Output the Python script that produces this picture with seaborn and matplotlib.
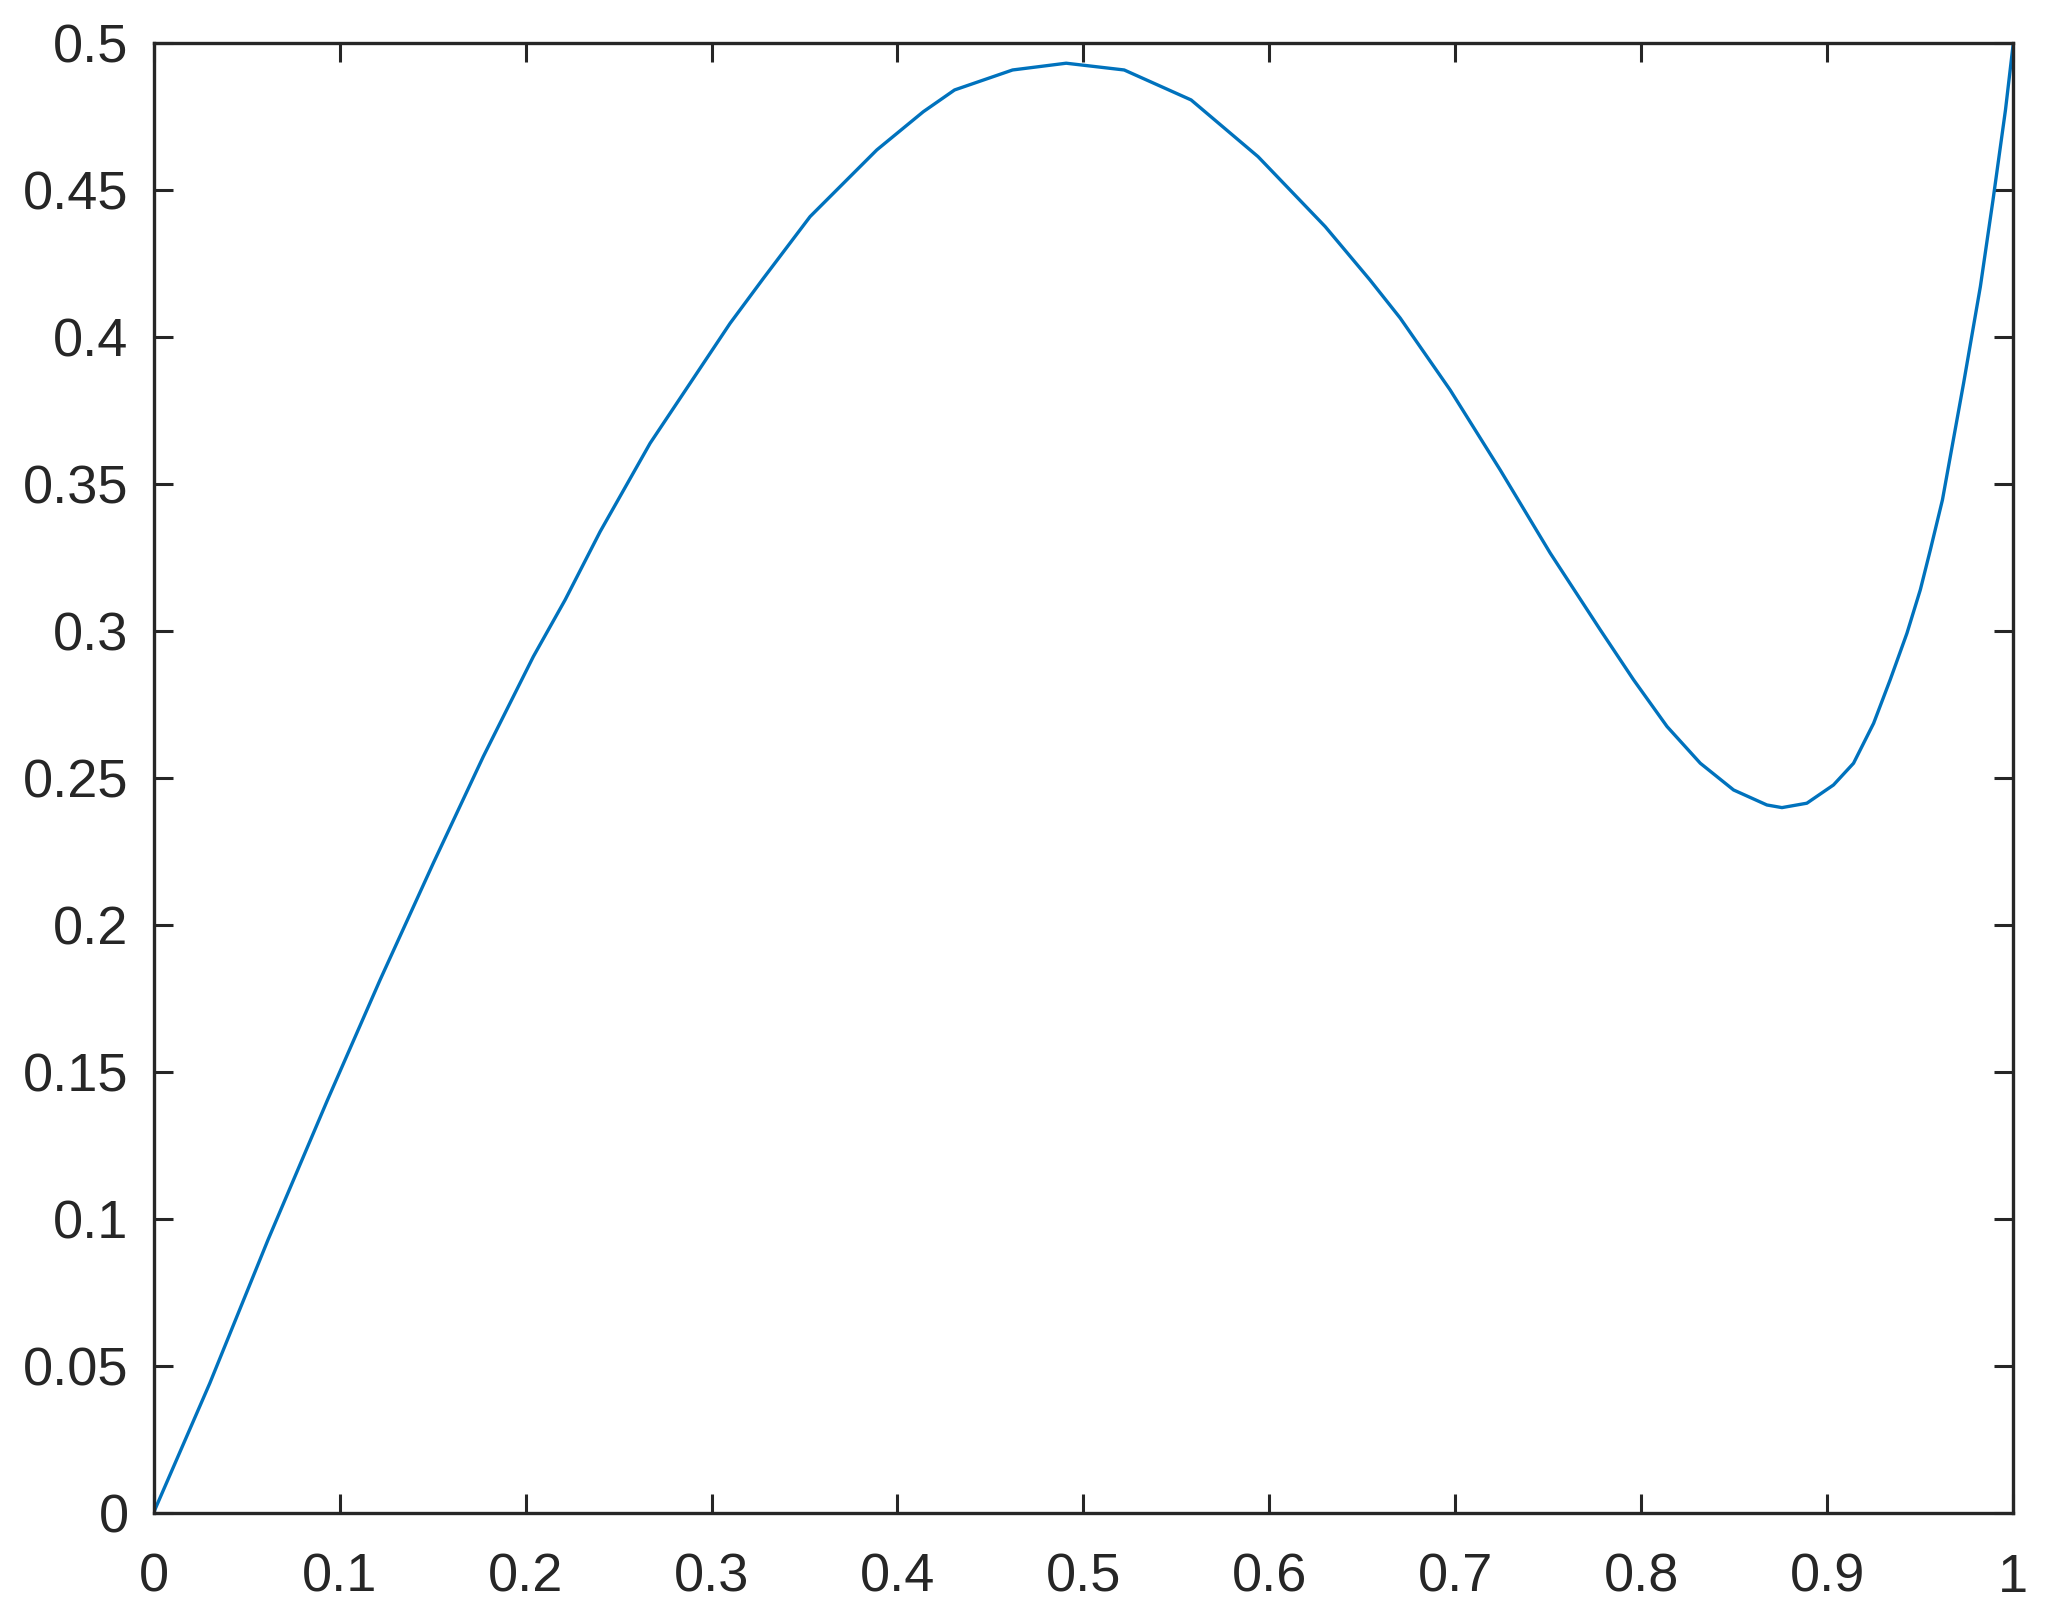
import numpy as np
import pandas as pd
import seaborn as sns
import matplotlib
matplotlib.use('Agg')
import matplotlib.pyplot as plt

# titik-titik kurva
x_vals = [0.0, 0.0302, 0.0615, 0.0935, 0.1218, 0.1504, 0.1773, 0.2042,
          0.2213, 0.2401, 0.267, 0.2885, 0.31, 0.3279, 0.353, 0.3745,
          0.3889, 0.4139, 0.4307, 0.4619, 0.4907, 0.5219, 0.5579, 0.5939,
          0.630, 0.654, 0.6703, 0.6972, 0.7241, 0.751, 0.7779, 0.7958,
          0.8138, 0.8317, 0.8496, 0.8675, 0.8756, 0.889, 0.9033, 0.9141,
          0.9249, 0.9338, 0.9428, 0.95, 0.9554, 0.9619, 0.9733, 0.9823,
          0.9891, 0.9958, 1.0]
y_vals = [0.0, 0.044, 0.0928, 0.1404, 0.1813, 0.221, 0.2573, 0.2913,
          0.3106, 0.3338, 0.3639, 0.3843, 0.4047, 0.42, 0.441, 0.4546,
          0.4637, 0.4767, 0.4841, 0.4909, 0.4932, 0.4909, 0.4807, 0.4614,
          0.4376, 0.4195, 0.4065, 0.382, 0.3548, 0.3265, 0.3004, 0.2834,
          0.2675, 0.255, 0.2459, 0.2408, 0.2399, 0.2414, 0.2476, 0.255,
          0.2686, 0.2834, 0.2992, 0.314, 0.3276, 0.3446, 0.3844, 0.4172,
          0.4467, 0.4773, 0.5]

x_ticks = [0, 0.1, 0.2, 0.3, 0.4, 0.5, 0.6, 0.7, 0.8, 0.9, 1]
x_labels = ['0', '0.1', '0.2', '0.3', '0.4', '0.5', '0.6', '0.7', '0.8', '0.9', '1']
y_ticks = [0, 0.05, 0.1, 0.15, 0.2, 0.25, 0.3, 0.35, 0.4, 0.45, 0.5]
y_labels = ['0', '0.05', '0.1', '0.15', '0.2', '0.25', '0.3', '0.35', '0.4', '0.45', '0.5']

df = pd.DataFrame({'x': x_vals, 'y': y_vals})

sns.set_theme(style="ticks")
plt.rcParams['font.family'] = ['Liberation Sans', 'DejaVu Sans']

fig = plt.figure(figsize=(20.59, 16.19), dpi=100)
ax = fig.add_axes([0.0746, 0.0657, 0.9032, 0.9076])

sns.lineplot(data=df, x='x', y='y', sort=False, estimator=None,
             color='#0072BD', linewidth=2.4, ax=ax)

ax.set_xlim(0, 1)
ax.set_ylim(0, 0.5)
ax.set_xticks(x_ticks)
ax.set_xticklabels(x_labels)
ax.set_yticks(y_ticks)
ax.set_yticklabels(y_labels)
ax.set_xlabel('')
ax.set_ylabel('')

dark = '#262626'
for s in ax.spines.values():
    s.set_visible(True)
    s.set_color(dark)
    s.set_linewidth(2.4)
ax.tick_params(axis='both', direction='in', length=14, width=2.2, colors=dark,
               labelsize=39, top=True, right=True)
ax.tick_params(axis='y', pad=18)
ax.tick_params(axis='x', pad=29)

fig.savefig('out.png', dpi=100, facecolor='white')
